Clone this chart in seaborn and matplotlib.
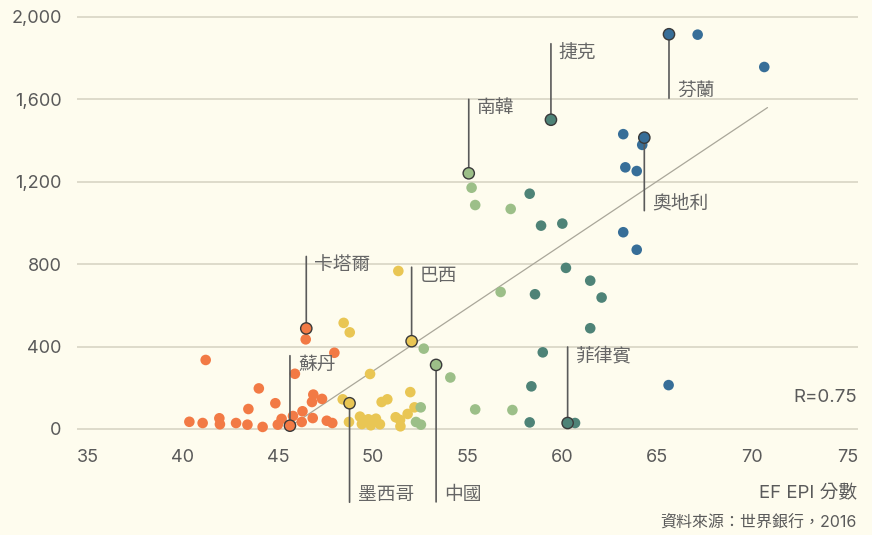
import matplotlib
matplotlib.use("Agg")
import matplotlib.pyplot as plt
import seaborn as sns
import pandas as pd

# ---------------- data ----------------
# EF EPI score, value, proficiency band (non-highlighted points)
epi_very_low = [40.34, 41.04, 41.2, 41.92, 41.95, 42.8, 43.4, 43.45, 44.0, 44.2, 44.87, 45.0,
                45.2, 45.8, 45.9, 46.26, 46.3, 46.47, 46.8, 46.87, 46.84, 47.33, 47.58, 47.87, 47.98]
val_very_low = [35, 29, 335, 52, 23, 29, 21, 97, 197, 10, 125, 21,
                49, 63, 268, 34, 86, 435, 131, 167, 53, 146, 40, 29, 370]

epi_low = [48.42, 48.47, 48.75, 48.79, 49.33, 49.43, 49.77, 49.86, 49.9, 50.17, 50.38,
           50.47, 50.77, 51.21, 51.35, 51.44, 51.46, 51.84, 51.98, 52.2]
val_low = [144, 515, 34, 469, 60, 24, 47, 267, 18, 50, 23,
           131, 144, 57, 767, 44, 13, 73, 179, 105]

epi_moderate = [52.28, 52.53, 52.54, 52.69, 54.09, 55.21, 55.4, 55.4, 56.74, 57.27, 57.36]
val_moderate = [34, 105, 21, 390, 250, 1171, 1087, 95, 665, 1068, 92]

epi_high = [58.27, 58.27, 58.36, 58.55, 58.87, 58.96, 59.99, 60.18, 60.66, 61.46, 61.46, 62.06]
val_high = [1142, 32, 207, 654, 987, 372, 997, 782, 29, 720, 489, 638]

epi_very_high = [63.2, 63.2, 63.31, 63.91, 63.91, 64.2, 65.59, 67.12, 70.63]
val_very_high = [1431, 955, 1270, 1252, 870, 1379, 213, 1914, 1757]

# highlighted countries
hl_names = ["卡塔爾", "蘇丹", "巴西", "墨西哥", "中國", "南韓", "捷克", "芬蘭", "奧地利", "菲律賓"]
hl_epi = [46.5, 45.64, 52.05, 48.78, 53.34, 55.06, 59.39, 65.61, 64.31, 60.27]
hl_val = [488, 16, 426, 125, 311, 1241, 1501, 1916, 1414, 29]
hl_band = ["very_low", "very_low", "low", "low", "moderate", "moderate", "high", "very_high", "very_high", "high"]

# trend line end points and correlation
trend_x = [45.9, 70.8]
trend_y = [28, 1560]
r_label = "R=0.75"

x_ticks = [35, 40, 45, 50, 55, 60, 65, 70, 75]
y_ticks = [0, 400, 800, 1200, 1600, 2000]
x_label = "EF EPI 分數"
source = "資料來源：世界銀行，2016"

# ---------------- styling ----------------
palette = {"very_low": "#F27A45", "low": "#E9C654", "moderate": "#9CBF88",
           "high": "#4E8377", "very_high": "#376E98"}
bg = "#FEFCEE"
txt = "#5A5A5A"
# label line length in pixels (positive = up)
line_len = {"卡塔爾": 72, "蘇丹": 70, "巴西": 74, "墨西哥": -99, "中國": -137,
            "南韓": 74, "捷克": 76, "芬蘭": -64, "奧地利": -73, "菲律賓": 76}

sns.set_theme(style="white")
plt.rcParams["font.family"] = ["Inter", "Noto Sans CJK TC", "DejaVu Sans"]

rows = []
for b, xs, ys in [("very_low", epi_very_low, val_very_low), ("low", epi_low, val_low),
                  ("moderate", epi_moderate, val_moderate), ("high", epi_high, val_high),
                  ("very_high", epi_very_high, val_very_high)]:
    for x, y in zip(xs, ys):
        rows.append({"epi": x, "value": y, "band": b})
df = pd.DataFrame(rows)
hl = pd.DataFrame({"name": hl_names, "epi": hl_epi, "value": hl_val, "band": hl_band})

fig = plt.figure(figsize=(8.72, 5.35), dpi=100, facecolor=bg)
ax = fig.add_axes([0.0883, 0.1789, 0.8959, 0.7933])
ax.set_facecolor(bg)

ax.plot(trend_x, trend_y, color="#AAA79A", lw=0.9, zorder=2)

sns.scatterplot(data=df, x="epi", y="value", hue="band", palette=palette, s=58,
                linewidth=0, legend=False, ax=ax, zorder=3)
sns.scatterplot(data=hl, x="epi", y="value", hue="band", palette=palette, s=66,
                edgecolor="#3A3A3A", linewidth=1.0, legend=False, ax=ax, zorder=6)

for _, r in hl.iterrows():
    d = line_len[r["name"]]
    ax.annotate("", xy=(r["epi"], r["value"]), xytext=(0, d), textcoords="offset pixels",
                arrowprops=dict(arrowstyle="-", color="#5A5A5A", lw=1.2, shrinkA=0, shrinkB=0),
                zorder=5, annotation_clip=False)
    ax.annotate(r["name"], xy=(r["epi"], r["value"]), xytext=(8, d - 1 if d > 0 else d - 2),
                textcoords="offset pixels", ha="left", va="top" if d > 0 else "bottom",
                fontsize=13.5, color="#666666", zorder=7, annotation_clip=False)

ax.set_xlim(34.42, 75.58)
ax.set_ylim(-50, 2010)
ax.set_xticks(x_ticks)
ax.set_yticks(y_ticks)
ax.set_yticklabels([f"{v:,}" for v in y_ticks])
ax.set_xlabel("")
ax.set_ylabel("")
ax.grid(axis="y", color="#D8D5C5", lw=1.2)
ax.grid(axis="x", visible=False)
for s in ax.spines.values():
    s.set_visible(False)
ax.tick_params(axis="both", length=0, labelsize=13, labelcolor=txt)
ax.tick_params(axis="y", pad=11)
ax.tick_params(axis="x", pad=7)

fig.text(857 / 872, 1 - 397 / 535, r_label, ha="right", va="center", fontsize=13.5, color=txt)
fig.text(857 / 872, 1 - 494 / 535, x_label, ha="right", va="center", fontsize=13.5, color=txt)
fig.text(857 / 872, 1 - 522 / 535, source, ha="right", va="center", fontsize=11.5, color=txt)

fig.savefig("out.png", dpi=100, facecolor=bg)
